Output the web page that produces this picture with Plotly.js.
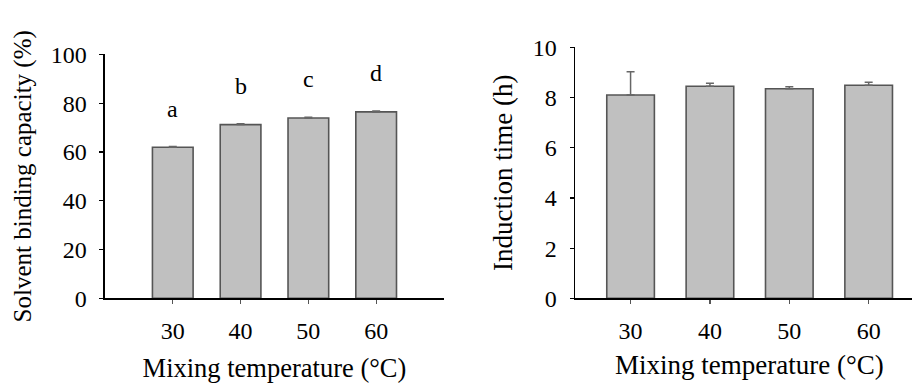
<!DOCTYPE html>
<html>
<head>
<meta charset="utf-8">
<script src="https://cdn.plot.ly/plotly-3.0.1.min.js"></script>
<style>html,body{margin:0;padding:0;background:#fff}#chart{width:912px;height:383px}</style>
</head>
<body>
<div id="chart"></div>
<script>
const categories = ['30', '40', '50', '60'];
const sbcValues = [61.9, 71.2, 73.9, 76.4];
const sbcErrors = [0.3, 0.3, 0.3, 0.4];
const sbcLetters = ['a', 'b', 'c', 'd'];
const inductionValues = [8.10, 8.45, 8.35, 8.49];
const inductionErrors = [0.93, 0.12, 0.08, 0.12];
const xTitle = 'Mixing temperature (°C)';
const yTitleLeft = 'Solvent binding capacity (%)';
const yTitleRight = 'Induction time (h)';

const FONT = 'Liberation Serif';
const barStyle = {color: '#c0c0c0', line: {color: '#555555', width: 1.6}};
const errStyle = (arr) => ({type: 'data', array: arr, visible: true, color: '#666666', thickness: 1.5, width: 4, symmetric: false, arrayminus: arr.map(() => 0)});

const traces = [
  {type: 'bar', x: categories, y: sbcValues, xaxis: 'x', yaxis: 'y', width: 0.6,
   marker: barStyle, error_y: errStyle(sbcErrors), hoverinfo: 'x+y'},
  {type: 'bar', x: categories, y: inductionValues, xaxis: 'x2', yaxis: 'y2', width: 0.6,
   marker: barStyle, error_y: errStyle(inductionErrors), hoverinfo: 'x+y'}
];

function axis(extra) {
  return Object.assign({
    showgrid: false, zeroline: false, showline: true, linecolor: '#000', linewidth: 1.5,
    ticks: 'outside', ticklen: 4, tickcolor: '#000', tickwidth: 1.2,
    tickfont: {family: FONT, size: 24, color: '#000'}
  }, extra);
}

const annotations = categories.map((c, i) => ({
  x: i, y: sbcValues[i] + sbcErrors[i], xref: 'x', yref: 'y',
  text: sbcLetters[i], showarrow: false, yanchor: 'bottom', yshift: 23,
  font: {family: FONT, size: 24, color: '#000'}
}));
annotations.push({
  xref: 'paper', yref: 'paper', x: 0.8218, y: 0.092, xanchor: 'center', yanchor: 'top',
  text: xTitle, showarrow: false, font: {family: FONT, size: 27, color: '#000'}
});

const layout = {
  width: 912, height: 383,
  margin: {l: 0, r: 0, t: 0, b: 0},
  paper_bgcolor: '#fff', plot_bgcolor: 'rgba(0,0,0,0)',
  showlegend: false,
  font: {family: FONT, size: 24, color: '#000'},
  xaxis: axis({
    type: 'category', domain: [0.1151, 0.4868], range: [-1, 4], anchor: 'y', ticklabelstandoff: 6, tickcolor: '#555',
    title: {text: xTitle, font: {family: FONT, size: 26.5, color: '#000'}, standoff: 18}
  }),
  yaxis: axis({
    domain: [0.2211, 0.8582], range: [0, 100], anchor: 'x', tickvals: [0, 20, 40, 60, 80, 100], ticklabelstandoff: 8,
    title: {text: yTitleLeft, font: {family: FONT, size: 25, color: '#000'}, standoff: 12}
  }),
  xaxis2: axis({
    type: 'category', domain: [0.6305, 1.0], range: [-0.70, 3.546], anchor: 'y2', ticklabelstandoff: 6, tickcolor: '#555'
  }),
  yaxis2: axis({
    domain: [0.2211, 0.8765], range: [0, 10], anchor: 'x2', tickvals: [0, 2, 4, 6, 8, 10], ticklabelstandoff: 8,
    title: {text: yTitleRight, font: {family: FONT, size: 27, color: '#000'}, standoff: 12}
  }),
  annotations: annotations
};

Plotly.newPlot('chart', traces, layout, {displayModeBar: false, staticPlot: true});
</script>
</body>
</html>
